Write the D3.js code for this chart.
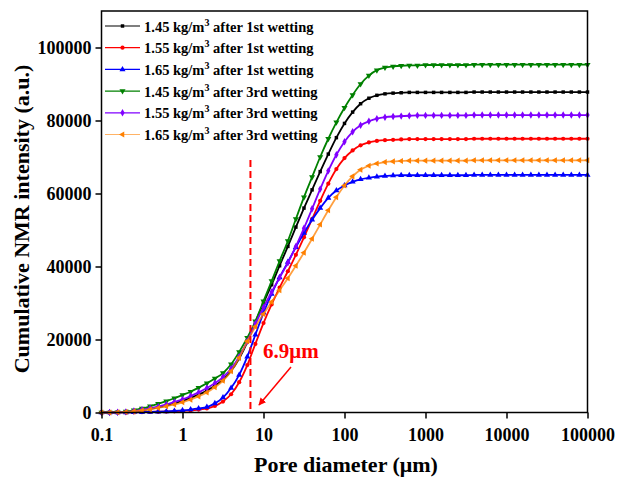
<!DOCTYPE html>
<html>
<head>
<meta charset="utf-8">
<script src="https://cdn.jsdelivr.net/npm/d3@7"></script>
<style>
  body { margin: 0; background: #fff; }
  svg text { font-family: "Liberation Serif", "Times New Roman", serif; font-weight: bold; }
</style>
</head>
<body>
<svg id="chart" width="624" height="478"></svg>
<script>
// Pore diameters (µm), log-spaced at 0.1 decade
const poreDiameter = [
  0.1, 0.126, 0.158, 0.2, 0.251, 0.316, 0.398, 0.501, 0.631, 0.794,
  1, 1.26, 1.58, 2, 2.51, 3.16, 3.98, 5.01, 6.31, 7.94,
  10, 12.6, 15.8, 20, 25.1, 31.6, 39.8, 50.1, 63.1, 79.4,
  100, 126, 158, 200, 251, 316, 398, 501, 631, 794,
  1000, 1260, 1580, 2000, 2510, 3160, 3980, 5010, 6310, 7940,
  10000, 12600, 15800, 20000, 25100, 31600, 39800, 50100, 63100, 79400,
  100000
];

// Cumulative NMR intensity (a.u.) for each sample
const d145first = [
  0, 10, 50, 150, 350, 650, 1000, 1400, 1900, 2500,
  3200, 4000, 4900, 6000, 7300, 9000, 11400, 14800, 19300, 24800,
  30000, 35000, 40200, 45500, 50800, 56000, 61000, 66000, 70800, 75300,
  79200, 82300, 84600, 86100, 86900, 87300, 87500, 87600, 87700, 87700,
  87700, 87700, 87700, 87700, 87700, 87700, 87800, 87800, 87800, 87800,
  87800, 87800, 87800, 87800, 87800, 87800, 87800, 87800, 87800, 87800,
  87800
];
const d155first = [
  0, 0, 10, 30, 60, 100, 150, 200, 250, 330,
  420, 580, 800, 1100, 1800, 3000, 5000, 8300, 13000, 18800,
  24500, 29600, 34200, 38700, 43200, 48000, 53000, 58000, 62700, 66700,
  69700, 71800, 73200, 74000, 74400, 74600, 74700, 74800, 74900, 74900,
  74900, 74900, 74900, 74900, 74900, 74900, 75000, 75000, 75000, 75000,
  75000, 75000, 75000, 75000, 75000, 75000, 75000, 75000, 75000, 75000,
  75000
];
const d165first = [
  0, 0, 10, 30, 60, 100, 150, 220, 300, 420,
  580, 800, 1100, 1500, 2500, 4100, 6700, 10300, 15300, 21300,
  27300, 32500, 37000, 41200, 45300, 49200, 52800, 56000, 58800, 60800,
  62200, 63200, 63900, 64300, 64600, 64800, 64900, 65000, 65000, 65000,
  65000, 65000, 65000, 65000, 65000, 65000, 65100, 65100, 65100, 65100,
  65100, 65100, 65100, 65100, 65100, 65100, 65100, 65100, 65100, 65100,
  65100
];
const d145third = [
  0, 20, 80, 250, 600, 1100, 1700, 2400, 3100, 3900,
  4800, 5700, 6800, 8000, 9300, 10800, 13200, 16600, 20500, 25000,
  30500, 36000, 41500, 47000, 53000, 59000, 64500, 70000, 75000, 79500,
  83500, 87000, 90000, 92300, 93800, 94500, 94800, 95000, 95100, 95100,
  95200, 95200, 95200, 95200, 95200, 95200, 95300, 95300, 95300, 95300,
  95300, 95300, 95300, 95300, 95300, 95300, 95300, 95300, 95300, 95300,
  95300
];
const d155third = [
  0, 10, 60, 170, 400, 750, 1150, 1600, 2200, 2900,
  3600, 4500, 5500, 6700, 8000, 9700, 12000, 15300, 19500, 24300,
  28800, 33000, 37000, 41000, 45500, 50500, 55800, 61200, 66200, 70600,
  74200, 76900, 78700, 79800, 80500, 80900, 81100, 81200, 81300, 81400,
  81400, 81400, 81400, 81400, 81400, 81400, 81500, 81500, 81500, 81500,
  81500, 81500, 81500, 81500, 81500, 81500, 81500, 81500, 81500, 81500,
  81500
];
const d165third = [
  0, 10, 50, 140, 300, 550, 850, 1250, 1700, 2200,
  2800, 3500, 4400, 5500, 6900, 8700, 11300, 15000, 19500, 23500,
  27000, 30300, 33500, 36800, 40200, 43800, 47600, 51500, 55400, 59000,
  62200, 64700, 66500, 67600, 68200, 68600, 68800, 68900, 69000, 69000,
  69000, 69000, 69000, 69000, 69000, 69000, 69100, 69100, 69100, 69100,
  69100, 69100, 69100, 69100, 69100, 69100, 69100, 69100, 69100, 69100,
  69100
];

const densities = ["1.45", "1.55", "1.65", "1.45", "1.55", "1.65"];
const wettings = ["1st", "1st", "1st", "3rd", "3rd", "3rd"];
const seriesValues = [d145first, d155first, d165first, d145third, d155third, d165third];
const seriesColors = ["#000000", "#ff0000", "#0000ff", "#008000", "#8000ff", "#ff8000"];

const xTickValues = [0.1, 1, 10, 100, 1000, 10000, 100000];
const yTickValues = [0, 20000, 40000, 60000, 80000, 100000];
const criticalDiameter = 6.9;
const criticalLabel = "6.9μm";

const W = 624, H = 478;
const margin = { left: 101.5, right: 36.5, top: 11, bottom: 65.5 };
const svg = d3.select("#chart");
svg.append("rect").attr("width", W).attr("height", H).attr("fill", "#fff");

const x = d3.scaleLog().domain([0.1, 100000]).range([margin.left, W - margin.right]);
const y = d3.scaleLinear().domain([0, 110000]).range([H - margin.bottom, margin.top]);

// marker shapes: square, circle, up-triangle, down-triangle, diamond, left-triangle
const markerDefs = [
  { type: d3.symbolSquare, size: 12, rot: 0 },
  { type: d3.symbolCircle, size: 14, rot: 0 },
  { type: d3.symbolTriangle, size: 16, rot: 0 },
  { type: d3.symbolTriangle, size: 16, rot: 180 },
  { type: d3.symbolDiamond, size: 16, rot: 0 },
  { type: d3.symbolTriangle, size: 16, rot: -90 }
];

// series
const line = d3.line().x(d => x(d[0])).y(d => y(d[1])).curve(d3.curveMonotoneX);
seriesValues.forEach((vals, s) => {
  const pts = poreDiameter.map((dv, i) => [dv, vals[i]]);
  const g = svg.append("g");
  g.append("path").datum(pts)
    .attr("fill", "none")
    .attr("stroke", seriesColors[s])
    .attr("stroke-width", 1.8)
    .attr("stroke-opacity", s === 5 ? 0.75 : 1)
    .attr("d", line);
  const sym = d3.symbol().type(markerDefs[s].type).size(markerDefs[s].size);
  g.selectAll("path.m").data(pts).join("path")
    .attr("class", "m")
    .attr("d", sym)
    .attr("fill", seriesColors[s])
    .attr("transform", d => `translate(${x(d[0])},${y(d[1])}) rotate(${markerDefs[s].rot})`);
});

// frame
svg.append("rect")
  .attr("x", margin.left).attr("y", margin.top)
  .attr("width", W - margin.right - margin.left)
  .attr("height", H - margin.bottom - margin.top)
  .attr("fill", "none").attr("stroke", "#000").attr("stroke-width", 1.5);

// x axis with log minor ticks
const xMinor = [];
for (let e = -1; e < 5; e++) for (let k = 2; k <= 9; k++) xMinor.push(k * Math.pow(10, e));
const xAxisG = svg.append("g").attr("transform", `translate(0,${H - margin.bottom})`);
xAxisG.call(d3.axisBottom(x).tickValues(xMinor).tickSize(3).tickFormat(""));
xAxisG.call(d3.axisBottom(x).tickValues(xTickValues).tickSize(6).tickPadding(10)
  .tickFormat(d => String(d)));
xAxisG.selectAll(".domain").remove();
xAxisG.selectAll("line").attr("stroke-width", 1.5);
xAxisG.selectAll("text").attr("font-size", 18).attr("fill", "#000");

// y axis with minor ticks
const yMinor = d3.range(10000, 110001, 20000);
const yAxisG = svg.append("g").attr("transform", `translate(${margin.left},0)`);
yAxisG.call(d3.axisLeft(y).tickValues(yMinor).tickSize(3).tickFormat(""));
yAxisG.call(d3.axisLeft(y).tickValues(yTickValues).tickSize(6).tickPadding(4)
  .tickFormat(d => String(d)));
yAxisG.selectAll(".domain").remove();
yAxisG.selectAll("line").attr("stroke-width", 1.5);
yAxisG.selectAll("text").attr("font-size", 18).attr("fill", "#000");

// axis titles
svg.append("text")
  .attr("x", 346).attr("y", 472)
  .attr("text-anchor", "middle").attr("font-size", 22).text("Pore diameter (μm)");
svg.append("text")
  .attr("transform", "translate(29,219) rotate(-90)")
  .attr("text-anchor", "middle").attr("font-size", 22).text("Cumulative NMR intensity (a.u.)");

// critical diameter marker
svg.append("line")
  .attr("x1", x(criticalDiameter)).attr("x2", x(criticalDiameter))
  .attr("y1", 160).attr("y2", H - margin.bottom - 2)
  .attr("stroke", "#ff0000").attr("stroke-width", 2).attr("stroke-dasharray", "7,4");
svg.append("text").attr("x", 263).attr("y", 358)
  .attr("font-size", 21).attr("fill", "#ff0000").text(criticalLabel);
svg.append("defs").append("marker")
  .attr("id", "arrow").attr("viewBox", "0 0 10 10").attr("refX", 9).attr("refY", 5)
  .attr("markerWidth", 5).attr("markerHeight", 5).attr("orient", "auto")
  .append("path").attr("d", "M0,0 L10,5 L0,10 Z").attr("fill", "#ff0000");
svg.append("line")
  .attr("x1", 291).attr("y1", 367).attr("x2", 259).attr("y2", 405)
  .attr("stroke", "#ff0000").attr("stroke-width", 1.5).attr("marker-end", "url(#arrow)");

// legend
const legend = svg.append("g");
seriesValues.forEach((vals, s) => {
  const cy = 26 + s * 21.7;
  legend.append("line").attr("x1", 105).attr("x2", 140).attr("y1", cy).attr("y2", cy)
    .attr("stroke", seriesColors[s]).attr("stroke-width", 1.2)
    .attr("stroke-opacity", s === 5 ? 0.6 : 1);
  legend.append("path")
    .attr("d", d3.symbol().type(markerDefs[s].type).size(markerDefs[s].size)())
    .attr("fill", seriesColors[s])
    .attr("transform", `translate(122.5,${cy}) rotate(${markerDefs[s].rot})`);
  const t = legend.append("text").attr("x", 144).attr("y", cy + 5.5).attr("font-size", 14.5);
  t.append("tspan").text(`${densities[s]} kg/m`);
  t.append("tspan").attr("font-size", 10).attr("dy", -6).text("3");
  t.append("tspan").attr("dy", 6).text(` after ${wettings[s]} wetting`);
});
</script>
</body>
</html>
